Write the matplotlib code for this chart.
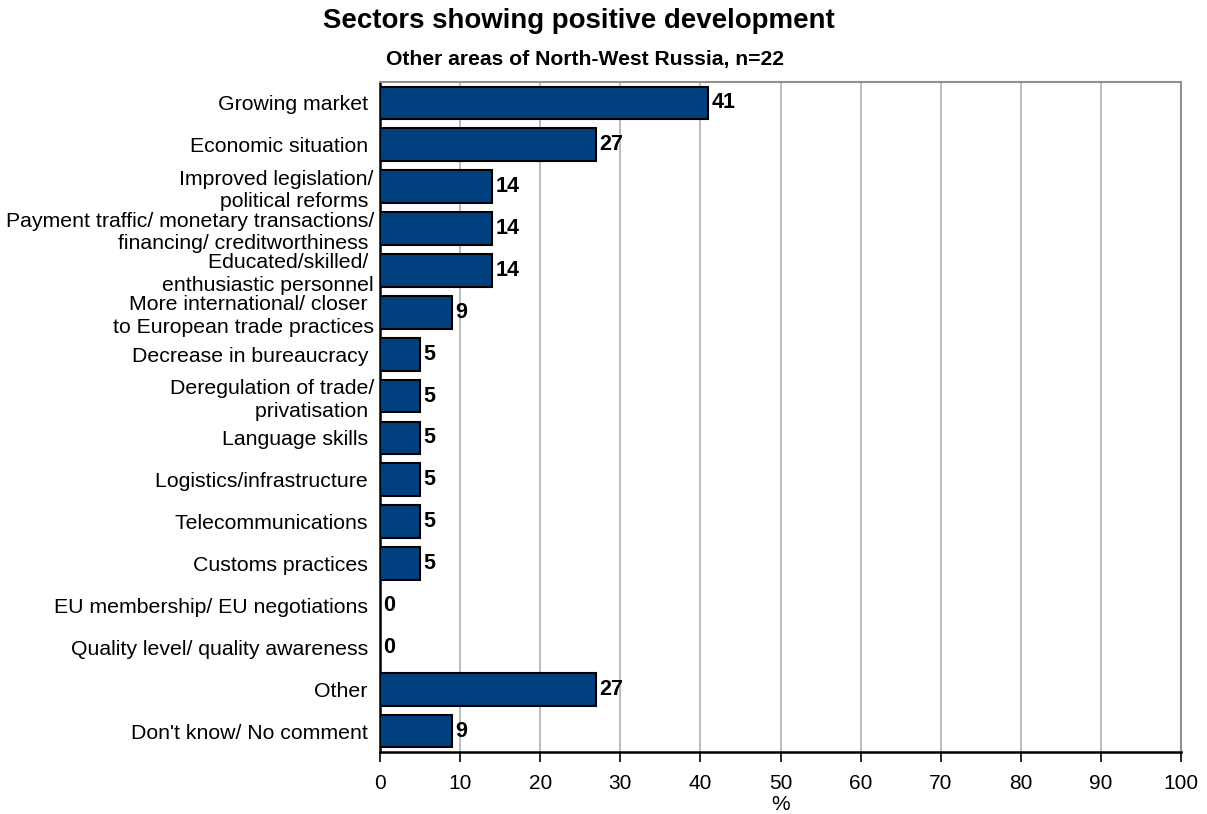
import matplotlib
matplotlib.use("Agg")
import matplotlib.pyplot as plt

plt.rcParams['font.family'] = ['Liberation Sans', 'DejaVu Sans']

categories = [
    "Growing market ",
    "Economic situation ",
    "Improved legislation/\npolitical reforms ",
    "Payment traffic/ monetary transactions/\nfinancing/ creditworthiness ",
    "Educated/skilled/ \nenthusiastic personnel",
    "More international/ closer \nto European trade practices",
    "Decrease in bureaucracy ",
    "Deregulation of trade/\nprivatisation ",
    "Language skills ",
    "Logistics/infrastructure ",
    "Telecommunications ",
    "Customs practices ",
    "EU membership/ EU negotiations ",
    "Quality level/ quality awareness ",
    "Other ",
    "Don't know/ No comment ",
]
values = [41, 27, 14, 14, 14, 9, 5, 5, 5, 5, 5, 5, 0, 0, 27, 9]
xticks = [0, 10, 20, 30, 40, 50, 60, 70, 80, 90, 100]

W, H = 1207, 814
fig = plt.figure(figsize=(W / 100, H / 100), dpi=100)
ax = fig.add_axes([380 / W, (H - 752) / H, (1181 - 380) / W, (752 - 82) / H])

n = len(values)
ypos = list(range(n))
ax.barh(ypos, values, height=0.78, color="#00407f", edgecolor="black",
        linewidth=1.5, zorder=3)

for y, v in zip(ypos, values):
    ax.text(v + 0.4, y, f"{v}", va="center", ha="left", fontsize=15.5,
            fontweight="bold", zorder=4)

ax.set_ylim(n - 0.5, -0.5)
ax.set_xlim(0, 100)
ax.set_xticks(xticks)
ax.set_xticklabels([str(t) for t in xticks], fontsize=15)
ax.set_yticks(ypos)
ax.set_yticklabels(categories, fontsize=15.3, linespacing=1.25)
ax.tick_params(axis="y", length=0, pad=4.5)
ax.tick_params(axis="x", length=7, width=1.2, direction="out", pad=9)

ax.grid(axis="x", color="#b0b0b0", linewidth=1.2, zorder=0)
ax.set_axisbelow(True)

for side in ("left", "bottom"):
    ax.spines[side].set_color("black")
    ax.spines[side].set_linewidth(1.8)
for side in ("top", "right"):
    ax.spines[side].set_color("#909090")
    ax.spines[side].set_linewidth(1.5)

ax.set_xlabel("%", fontsize=15, labelpad=1)

fig.text(579 / W, 1 - 21 / H, "Sectors showing positive development",
         ha="center", va="center", fontsize=19.9, fontweight="bold")
fig.text(585 / W, 1 - 60 / H, "Other areas of North-West Russia, n=22",
         ha="center", va="center", fontsize=15.2, fontweight="bold")

fig.savefig("out.png", dpi=100)
